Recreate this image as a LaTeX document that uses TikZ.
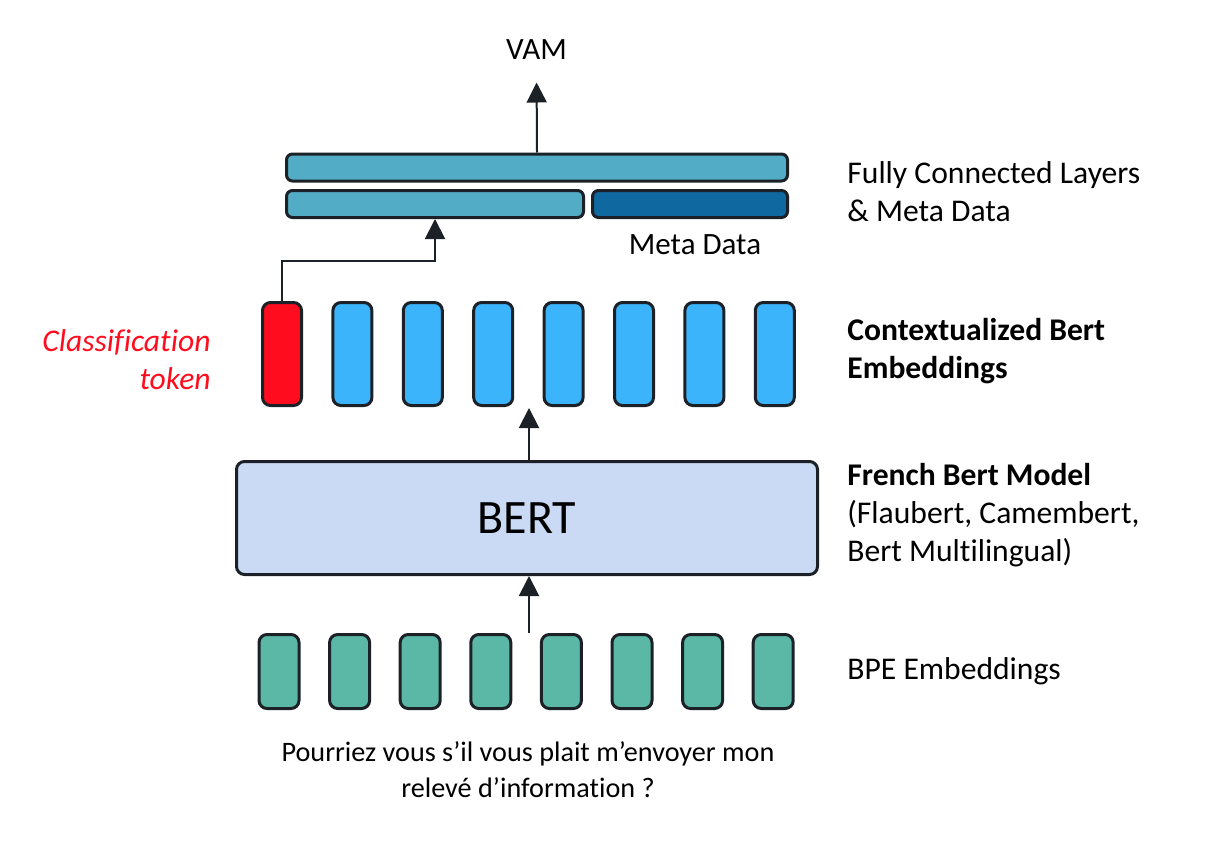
\documentclass[tikz,border=0pt]{standalone}
\usepackage{fontspec}
\setmainfont{Carlito}[Ligatures=NoCommon]
\usetikzlibrary{arrows.meta}
\definecolor{outline}{HTML}{1B2126}
\definecolor{fcteal}{HTML}{52ACC6}
\definecolor{metablue}{HTML}{0F68A0}
\definecolor{ctxblue}{HTML}{3BB4FB}
\definecolor{clsred}{HTML}{FF0C1E}
\definecolor{bertfill}{HTML}{CADAF5}
\definecolor{bpegreen}{HTML}{5BB8A6}
\tikzset{
    token-box/.style = {draw=outline, line width=1.5pt, rectangle, rounded corners=4pt, inner sep=0pt, minimum width=19.5pt, minimum height=51.5pt},
    bpe-box/.style = {draw=outline, line width=1.5pt, fill=bpegreen, rectangle, rounded corners=4pt, inner sep=0pt, minimum width=20pt, minimum height=37pt},
    fc-bar/.style = {draw=outline, line width=1.5pt, rectangle, rounded corners=3pt, inner sep=0pt, minimum height=13.5pt},
    side-label/.style = {font=\fontsize{15.8}{19}\selectfont, align=left, anchor=west, inner sep=0pt},
    flow/.style = {line width=1pt, draw=outline, -{Triangle[width=10pt,length=10pt]}},
}

\begin{document}
\begin{tikzpicture}[x=0.5pt, y=-0.5pt]
\useasboundingbox (0,0) rectangle (1214,856);
% fully connected layers
\node [fc-bar, fill=fcteal, minimum width=250.5pt] (fc-top) at (537,167.5) {};
\node [fc-bar, fill=fcteal, minimum width=148.5pt] (fc-left) at (435,204) {};
\node [fc-bar, fill=metablue, minimum width=97.5pt] (fc-meta) at (690,204) {};
\node [font=\fontsize{15.5}{19}\selectfont] (meta-label) at (695,245) {Meta Data};
\node [font=\fontsize{15.5}{19}\selectfont] (vam) at (536.5,49.5) {VAM};
% contextualized embeddings
\node [token-box, fill=clsred] (tok0) at (282,354) {};
\foreach \i in {1,...,7}
    \node [token-box, fill=ctxblue] (tok\i) at (282+70.4*\i,354) {};
\node [font=\fontsize{15.8}{19}\selectfont\itshape, text=clsred, align=right, anchor=east, inner sep=0pt] (cls-label) at (211,359.5) {Classification\\token};
% bert
\node [draw=outline, line width=1.5pt, fill=bertfill, rounded corners=4pt, minimum width=290.5pt, minimum height=56.5pt, font=\fontsize{24}{28}\selectfont] (bert) at (527,518) {BERT};
% bpe embeddings
\foreach \i in {0,...,7}
    \node [bpe-box] (bpe\i) at (279+70.6*\i,671.5) {};
\node [font=\fontsize{14.1}{18}\selectfont, align=center] (sentence) at (528,770) {Pourriez vous s’il vous plait m’envoyer mon\\relevé d’information ?};
% side labels
\node [side-label] (fc-label) at (847,192) {Fully Connected Layers\\\& Meta Data};
\node [side-label, font=\fontsize{15.8}{19}\selectfont\bfseries] (ctx-label) at (847,351.5) {Contextualized Bert\\Embeddings};
\node [side-label] (bert-label) at (847,515) {\textbf{French Bert Model}\\(Flaubert, Camembert,\\Bert Multilingual)};
\node [side-label] (bpe-label) at (847,671) {BPE Embeddings};
% connectors
\coordinate (ctx-mid) at (529,408);
\coordinate (bpe-mid) at (529,633);
\draw [flow] (bpe-mid) -- (bpe-mid |- bert.south);
\draw [flow] (bert.north -| ctx-mid) -- (ctx-mid);
\draw [flow] (tok0.north) -- ++(0,-40) -| (fc-left.south);
\draw [flow, shorten >=8pt] (fc-top.north) -- (vam.south);
\end{tikzpicture}
\end{document}
